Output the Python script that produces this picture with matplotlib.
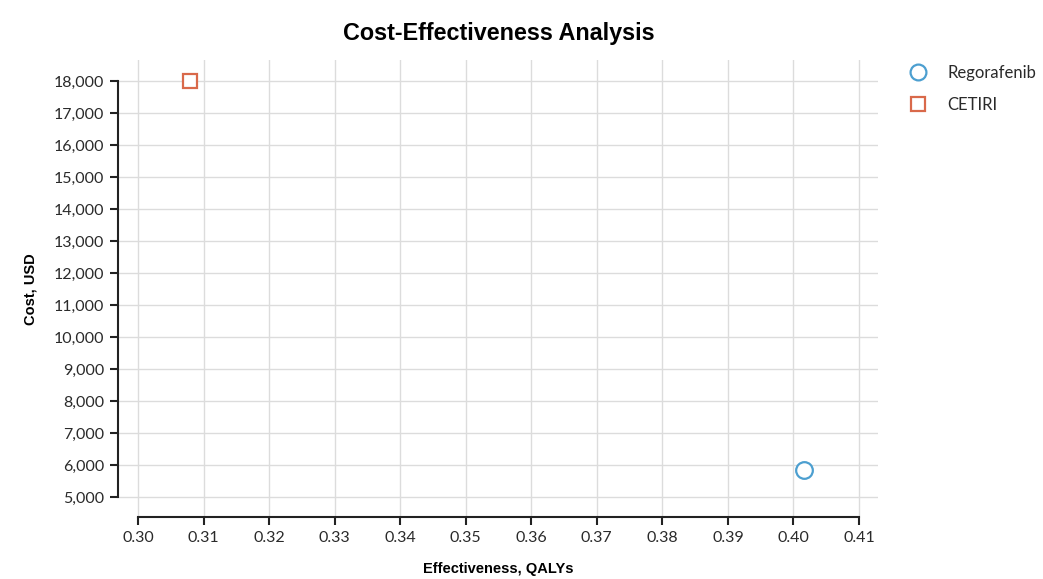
import matplotlib
matplotlib.use("Agg")
import matplotlib.pyplot as plt
from matplotlib.ticker import FuncFormatter

# Strategy results (effectiveness in QALYs, cost in USD)
strategies = ["Regorafenib", "CETIRI"]
effectiveness = [0.4016, 0.3079]
costs = [5844, 18000]
markers = ["o", "s"]
colors = ["#4c9fd0", "#d9694a"]

x_ticks = [0.30, 0.31, 0.32, 0.33, 0.34, 0.35, 0.36, 0.37, 0.38, 0.39, 0.40, 0.41]
y_ticks = list(range(5000, 18001, 1000))

tick_font = "Lato"
head_font = "Liberation Sans"

fig = plt.figure(figsize=(10.43, 5.79), dpi=100)
ax = fig.add_axes([0.1131, 0.1071, 0.7287, 0.7893])

for name, x, y, m, c in zip(strategies, effectiveness, costs, markers, colors):
    ms = 12 if m == "o" else 10
    ax.plot(x, y, linestyle="none", marker=m, markersize=ms,
            markerfacecolor="white", markeredgecolor=c, markeredgewidth=1.6,
            label=name, zorder=5)

ax.set_xlim(0.29695, 0.4129)
ax.set_ylim(4375, 18656)
ax.set_xticks(x_ticks)
ax.set_yticks(y_ticks)
ax.xaxis.set_major_formatter(FuncFormatter(lambda v, p: f"{v:.2f}"))
ax.yaxis.set_major_formatter(FuncFormatter(lambda v, p: f"{int(v):,}"))

ax.grid(True, color="#dcdcdc", linewidth=1.0)
ax.set_axisbelow(True)

for s in ["top", "right"]:
    ax.spines[s].set_visible(False)
ax.spines["left"].set_bounds(5000, 18000)
ax.spines["bottom"].set_bounds(0.30, 0.41)
for s in ["left", "bottom"]:
    ax.spines[s].set_linewidth(1.5)
    ax.spines[s].set_color("#222222")

ax.tick_params(axis="both", length=6, width=1.5, color="#222222",
               labelsize=11.5, labelcolor="#2a2a2a", pad=4)
for lbl in ax.get_xticklabels() + ax.get_yticklabels():
    lbl.set_fontfamily(tick_font)

fig.text(0.478, 0.942, "Cost-Effectiveness Analysis", ha="center", va="center",
         fontsize=16.8, fontweight="bold", family=head_font)
fig.text(0.478, 0.018, "Effectiveness, QALYs", ha="center", va="center",
         fontsize=10.5, fontweight="bold", family=head_font)
fig.text(0.029, 0.5, "Cost, USD", ha="center", va="center", rotation=90,
         fontsize=10.5, fontweight="bold", family=head_font)

leg = ax.legend(loc="upper left", bbox_to_anchor=(0.858, 0.9),
                bbox_transform=fig.transFigure, frameon=False,
                prop={"family": tick_font, "size": 12}, labelspacing=1.0,
                handletextpad=0.75, markerscale=0.95, borderaxespad=0)
for t in leg.get_texts():
    t.set_color("#2a2a2a")

fig.savefig("out.png", dpi=100, facecolor="white")
